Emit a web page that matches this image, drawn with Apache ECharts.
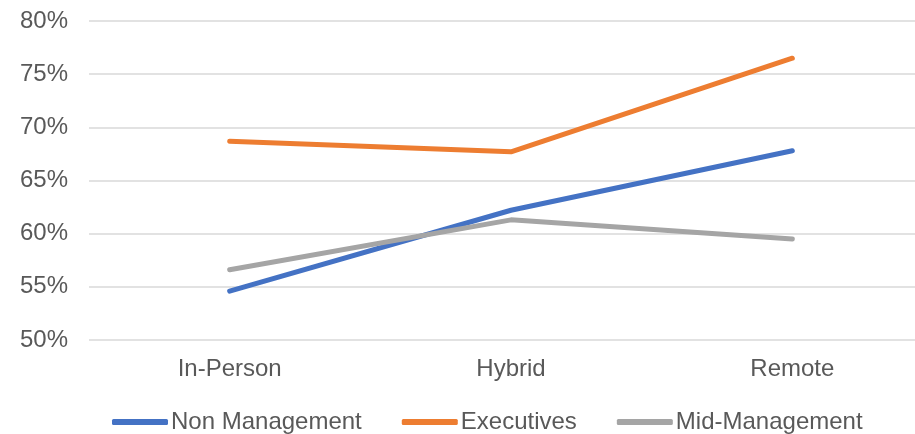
<!DOCTYPE html>
<html><head><meta charset="utf-8">
<script src="https://cdn.jsdelivr.net/npm/echarts@6/dist/echarts.min.js"></script>
<style>html,body{margin:0;padding:0;background:#fff;overflow:hidden}#c{width:933px;height:434px}</style>
</head><body><div id="c"></div>
<script>
const categories = ['In-Person', 'Hybrid', 'Remote'];
const nonManagement = [54.6, 62.2, 67.8];
const executives = [68.7, 67.7, 76.5];
const midManagement = [56.6, 61.3, 59.5];
const yTicks = [50, 55, 60, 65, 70, 75, 80];

const chart = echarts.init(document.getElementById('c'));
const font = 'Liberation Sans, Arial, sans-serif';
const fs = 24;
function line(name, data, color) {
  return { name, type: 'line', data, showSymbol: false, symbol: 'none',
    lineStyle: { color, width: 5, cap: 'round', join: 'round' }, itemStyle: { color } };
}
chart.setOption({
  animation: false,
  grid: { left: 89, right: 0, top: 21, bottom: 94 },
  xAxis: { type: 'category', data: categories, boundaryGap: true,
    axisLine: { show: false }, axisTick: { show: false },
    axisLabel: { color: '#595959', fontSize: fs, fontFamily: font, margin: 17 } },
  yAxis: { type: 'value', min: yTicks[0], max: yTicks[yTicks.length - 1], interval: 5,
    axisLabel: { color: '#595959', fontSize: fs, fontFamily: font, margin: 21, formatter: v => v + '%' },
    splitLine: { lineStyle: { color: '#D9D9D9', width: 1.5 } } },
  legend: { top: 405, left: 107, itemWidth: 56, itemHeight: 6, itemGap: 40, icon: 'roundRect',
    textStyle: { color: '#595959', fontSize: fs, fontFamily: font, padding: [0, 0, 0, -2] } },
  series: [
    line('Non Management', nonManagement, '#4472C4'),
    line('Executives', executives, '#ED7D31'),
    line('Mid-Management', midManagement, '#A5A5A5')
  ]
});
</script></body></html>
